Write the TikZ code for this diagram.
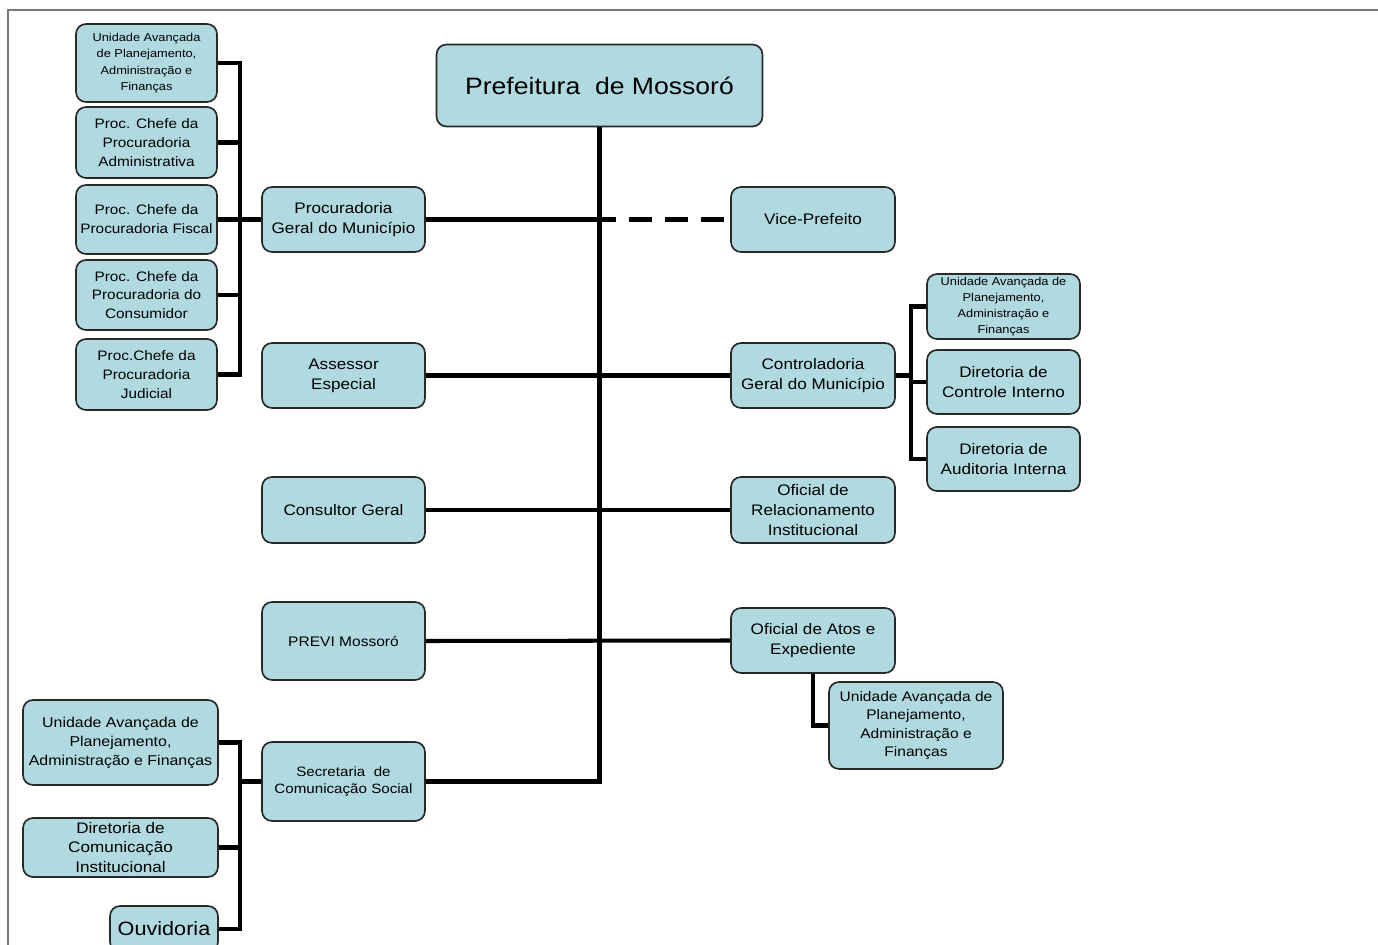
\documentclass[tikz,border=0pt]{standalone}
\usepackage{fontspec}
\setmainfont{Liberation Sans}[FakeStretch=1.12]
\usepackage{tikz}
\definecolor{boxfill}{RGB}{176,218,224}
\definecolor{boxline}{RGB}{40,40,40}
\definecolor{framegray}{RGB}{120,120,120}

\begin{document}
\begin{tikzpicture}[x=0.02cm,y=-0.02cm,line join=miter,
  box/.style={draw=boxline,line width=0.95pt,fill=boxfill,rounded corners=0.2cm,align=center,inner sep=0pt},
  conn/.style={line width=2.3pt,black},
  fbig/.style={font=\fontsize{13.5}{16}\selectfont},
  fnorm/.style={font=\fontsize{8.7}{11.2}\selectfont},
  fproc/.style={font=\fontsize{7.8}{10.7}\selectfont},
  fsmall/.style={font=\fontsize{6.5}{9.2}\selectfont},
  fmid/.style={font=\fontsize{7.9}{10.6}\selectfont},
  fouv/.style={font=\fontsize{11}{13}\selectfont},
  lcol/.style={box,fnorm,minimum width=3.26cm},
  rcol/.style={box,fnorm,minimum width=3.28cm},
  ccol/.style={box,fnorm,minimum width=3.06cm},
  tlcol/.style={box,fproc,minimum width=2.82cm}]
\useasboundingbox (0,0) rectangle (1378,945);
\draw[framegray,line width=1.1pt] (8,945) -- (8,10) -- (1378,10);

\node[box,fbig,minimum width=6.52cm,minimum height=1.64cm] (top) at (599.5,85.5) {Prefeitura~ de Mossoró};

% left column
\node[lcol,minimum height=1.3cm] (proc) at (343.5,219.5) {Procuradoria\\Geral do Município};
\node[lcol,minimum height=1.3cm] (assessor) at (343.5,375.5) {Assessor\\Especial};
\node[lcol,minimum height=1.32cm] (consultor) at (343.5,510) {Consultor Geral};
\node[lcol,font=\fontsize{7.9}{10}\selectfont,minimum height=1.56cm] (previ) at (343.5,641) {PREVI Mossoró};
\node[lcol,font=\fontsize{7.7}{10.2}\selectfont,minimum height=1.58cm] (secom) at (343.5,781.5) {Secretaria~ de\\Comunicação Social};

% right column
\node[rcol,minimum height=1.3cm] (vice) at (813,219.5) {Vice-Prefeito};
\node[rcol,minimum height=1.3cm] (control) at (813,375.5) {Controladoria\\Geral do Município};
\node[rcol,minimum height=1.32cm] (ofrel) at (813,510) {Oficial de\\Relacionamento\\Institucional};
\node[rcol,minimum height=1.3cm] (ofatos) at (813,640.5) {Oficial de Atos e\\Expediente};

% procuradoria
\node[tlcol,fsmall,minimum height=1.56cm] (ua1) at (146.5,63) {Unidade Avançada\\de Planejamento,\\Administração e\\Finanças};
\node[tlcol,minimum height=1.42cm] (padm) at (146.5,142.5) {Proc. Chefe da\\Procuradoria\\Administrativa};
\node[tlcol,minimum height=1.38cm] (pfis) at (146.5,219.5) {Proc. Chefe da\\Procuradoria Fiscal};
\node[tlcol,minimum height=1.4cm] (pcon) at (146.5,295) {Proc. Chefe da\\Procuradoria do\\Consumidor};
\node[tlcol,minimum height=1.42cm] (pjud) at (146.5,374.5) {Proc.Chefe da\\Procuradoria\\Judicial};

% controladoria
\node[ccol,fsmall,minimum height=1.3cm] (cua) at (1003.5,306.5) {Unidade Avançada de\\Planejamento,\\Administração e\\Finanças};
\node[ccol,minimum height=1.28cm] (cdci) at (1003.5,382) {Diretoria de\\Controle Interno};
\node[ccol,minimum height=1.28cm] (caud) at (1003.5,459) {Diretoria de\\Auditoria Interna};

% oficial de atos
\node[box,fmid,minimum width=3.48cm,minimum height=1.74cm] (oua) at (916,725.5) {Unidade Avançada de\\Planejamento,\\Administração e\\Finanças};

% secretaria
\node[box,fmid,font=\fontsize{8.1}{10.8}\selectfont,minimum width=3.9cm,minimum height=1.7cm] (sua) at (120.5,742.5) {Unidade Avançada de\\Planejamento,\\Administração e Finanças};
\node[box,fnorm,minimum width=3.9cm,minimum height=1.18cm] (sdci) at (120.5,847.5) {Diretoria de\\Comunicação\\Institucional};
\node[box,fouv,minimum width=2.16cm,minimum height=0.92cm] (ouv) at (164,929) {Ouvidoria};

\coordinate (lb) at (240,0);
\coordinate (rb) at (911,0);

\draw[conn] (top.south) -- (top.south |- secom.east) -- (secom.east);
\draw[conn] (proc.east) -- (proc.east -| top.south);
\draw[conn,dash pattern=on 13.5pt off 7pt,dash phase=4pt] (vice.west -| top.south) -- (vice.west);
\draw[conn] (assessor.east) -- (control.west);
\draw[conn] (consultor.east) -- (ofrel.west);
\draw[conn] (previ.east) -- (ofatos.west);

\draw[conn] (ua1.east) -| (lb |- pjud.east) -- (pjud.east);
\draw[conn] (padm.east) -- (padm.east -| lb);
\draw[conn] (pfis.east) -- (proc.west);
\draw[conn] (pcon.east) -- (pcon.east -| lb);

\draw[conn] (cua.west) -| (rb |- caud.west) -- (caud.west);
\draw[conn] (control.east) -- (control.east -| rb);
\draw[conn] (cdci.west) -- (cdci.west -| rb);

\draw[conn] (ofatos.south) -- (ofatos.south |- oua.west) -- (oua.west);

\draw[conn] (sua.east) -| (lb |- ouv.east) -- (ouv.east);
\draw[conn] (sdci.east) -- (sdci.east -| lb);
\draw[conn] (secom.west) -- (secom.west -| lb);
\end{tikzpicture}
\end{document}
